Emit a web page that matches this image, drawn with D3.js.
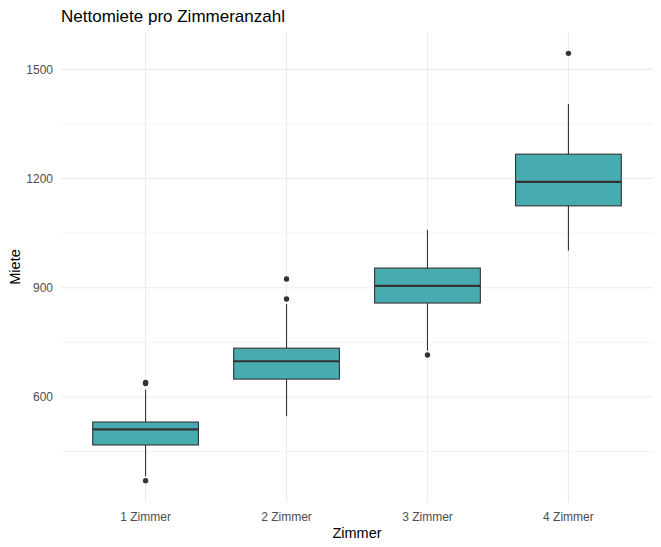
<!DOCTYPE html>
<meta charset="utf-8">
<title>Nettomiete pro Zimmeranzahl</title>
<style>
    body { margin: 0; background: #fff; }
    text { font-family: "Liberation Sans", Arial, sans-serif; }
    .tick text { fill: #4d4d4d; font-size: 12px; }
    .grid line { stroke: #ebebeb; }
</style>

<svg width="661" height="547"></svg>
<script src="https://cdnjs.cloudflare.com/ajax/libs/d3/7.8.5/d3.min.js"></script>
<script>

    // values
    var categories = ["1 Zimmer", "2 Zimmer", "3 Zimmer", "4 Zimmer"];
    var lowerWhisker = [382, 547, 727, 1002];
    var q1 = [468, 649, 858, 1125];
    var median = [511, 698, 905, 1191];
    var q3 = [531, 734, 954, 1267];
    var upperWhisker = [620, 855, 1059, 1405];
    var outliers = [[640, 637, 370], [924, 869], [715], [1544]];
    var yTicks = [600, 900, 1200, 1500];
    var yMinor = [450, 750, 1050, 1350];

    var svg = d3.select("svg"),
        margin = {top: 32, right: 8, bottom: 45, left: 61},
        width = +svg.attr("width") - margin.left - margin.right,
        height = +svg.attr("height") - margin.top - margin.bottom,
        g = svg.append("g").attr("transform", "translate(" + margin.left + "," + margin.top + ")");

    var x = d3.scaleBand()
        .domain(categories)
        .range([0, width])
        .paddingOuter(0.1)
        .paddingInner(0);

    // ggplot style 5% expansion around the data
    var lo = d3.min(outliers.map(function(o, i) { return Math.min(lowerWhisker[i], d3.min(o)); })),
        hi = d3.max(outliers.map(function(o, i) { return Math.max(upperWhisker[i], d3.max(o)); })),
        pad = (hi - lo) * 0.05;

    var y = d3.scaleLinear()
        .domain([lo - pad, hi + pad])
        .range([height, 0]);

    // gridlines
    var grid = g.append("g").attr("class", "grid");
    grid.selectAll(".minor")
        .data(yMinor)
        .enter().append("line")
            .attr("x1", 0).attr("x2", width)
            .attr("y1", function(d) { return y(d); })
            .attr("y2", function(d) { return y(d); })
            .attr("stroke-width", 0.6);
    grid.selectAll(".major")
        .data(yTicks)
        .enter().append("line")
            .attr("x1", 0).attr("x2", width)
            .attr("y1", function(d) { return y(d); })
            .attr("y2", function(d) { return y(d); })
            .attr("stroke-width", 1.1);
    grid.selectAll(".vert")
        .data(categories)
        .enter().append("line")
            .attr("x1", function(d) { return x(d) + x.bandwidth() / 2; })
            .attr("x2", function(d) { return x(d) + x.bandwidth() / 2; })
            .attr("y1", 0).attr("y2", height)
            .attr("stroke-width", 1.1);

    // axes (labels only, like theme_minimal)
    var yAxis = g.append("g")
        .call(d3.axisLeft(y).tickValues(yTicks).tickFormat(d3.format("d")).tickSize(0).tickPadding(8));
    yAxis.select(".domain").remove();

    var xAxis = g.append("g")
        .attr("transform", "translate(0," + height + ")")
        .call(d3.axisBottom(x).tickSize(0).tickPadding(10));
    xAxis.select(".domain").remove();

    // boxes
    var boxW = x.bandwidth() * 0.75;
    var box = g.selectAll(".box")
        .data(categories)
        .enter().append("g")
            .attr("class", "box")
            .attr("transform", function(d) { return "translate(" + (x(d) + x.bandwidth() / 2) + ",0)"; });

    box.append("line")
        .attr("y1", function(d, i) { return y(upperWhisker[i]); })
        .attr("y2", function(d, i) { return y(q3[i]); })
        .attr("stroke", "#333").attr("stroke-width", 1.1);
    box.append("line")
        .attr("y1", function(d, i) { return y(q1[i]); })
        .attr("y2", function(d, i) { return y(lowerWhisker[i]); })
        .attr("stroke", "#333").attr("stroke-width", 1.1);

    box.append("rect")
        .attr("x", -boxW / 2)
        .attr("width", boxW)
        .attr("y", function(d, i) { return y(q3[i]); })
        .attr("height", function(d, i) { return y(q1[i]) - y(q3[i]); })
        .attr("fill", "#47abb0")
        .attr("stroke", "#333")
        .attr("stroke-width", 1.1);

    box.append("line")
        .attr("x1", -boxW / 2).attr("x2", boxW / 2)
        .attr("y1", function(d, i) { return y(median[i]); })
        .attr("y2", function(d, i) { return y(median[i]); })
        .attr("stroke", "#333").attr("stroke-width", 2.2);

    box.selectAll("circle")
        .data(function(d, i) { return outliers[i]; })
        .enter().append("circle")
            .attr("r", 2.7)
            .attr("cy", function(d) { return y(d); })
            .attr("fill", "#333");

    // titles
    svg.append("text")
        .attr("x", margin.left)
        .attr("y", 22)
        .attr("font-size", "17px")
        .text("Nettomiete pro Zimmeranzahl");

    svg.append("text")
        .attr("x", margin.left + width / 2)
        .attr("y", 538)
        .attr("text-anchor", "middle")
        .attr("font-size", "14.5px")
        .text("Zimmer");

    svg.append("text")
        .attr("transform", "translate(20," + (margin.top + height / 2) + ") rotate(-90)")
        .attr("text-anchor", "middle")
        .attr("font-size", "14.5px")
        .text("Miete");

</script>
